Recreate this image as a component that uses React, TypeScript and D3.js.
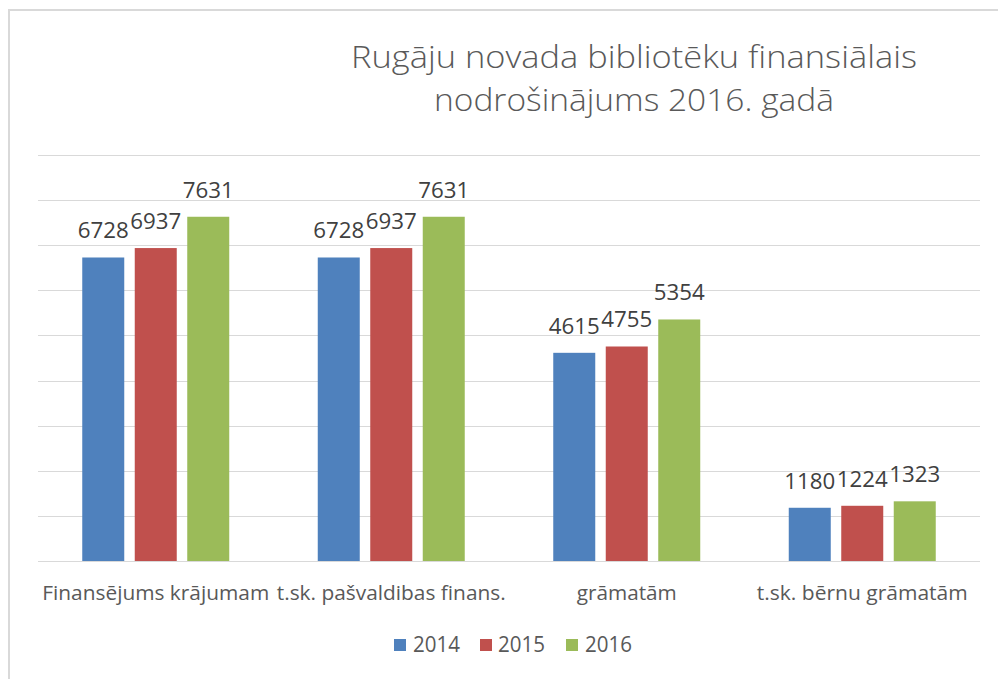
import React from "react";
import * as d3 from "d3";

const categories = [
  "Finansējums krājumam",
  "t.sk. pašvaldibas finans.",
  "grāmatām",
  "t.sk. bērnu grāmatām",
];
const seriesNames = ["2014", "2015", "2016"];
const values2014 = [6728, 6728, 4615, 1180];
const values2015 = [6937, 6937, 4755, 1224];
const values2016 = [7631, 7631, 5354, 1323];
const colors = ["#4F81BD", "#C0504D", "#9BBB59"];
const yTicks = [0, 1000, 2000, 3000, 4000, 5000, 6000, 7000, 8000, 9000];
const titleLines = ["Rugāju novada bibliotēku  finansiālais", "nodrošinājums 2016. gadā"];

const W = 998;
const H = 679;
const FONT = "'Open Sans', 'Liberation Sans', sans-serif";
const titleWidths = [566, 400];
const catWidths = [227, 229, 100, 211];

export default function App() {
  const seriesValues = [values2014, values2015, values2016];
  const plotLeft = 38;
  const plotRight = 980;
  const plotTop = 155;
  const plotBottom = 561;

  const x0 = d3.scaleBand<string>().domain(categories).range([plotLeft, plotRight]).paddingInner(0).paddingOuter(0);
  const x1 = d3
    .scaleBand<string>()
    .domain(seriesNames)
    .range([0, x0.bandwidth()])
    .paddingInner(0.2)
    .paddingOuter(0.843);
  const y = d3.scaleLinear().domain([0, 9000]).range([plotBottom, plotTop]);

  const legendItems = [
    { name: "2014", sx: 394, tx: 413 },
    { name: "2015", sx: 480, tx: 498 },
    { name: "2016", sx: 566, tx: 585 },
  ];

  return (
    <svg width={W} height={H} style={{ position: "absolute", left: 0, top: 0, display: "block" }}>
      <rect x={0} y={0} width={W} height={H} fill="#ffffff" />
      {/* chart border */}
      <line x1={8} y1={10} x2={W} y2={10} stroke="#d9d9d9" strokeWidth={2} />
      <line x1={9} y1={9} x2={9} y2={H} stroke="#d9d9d9" strokeWidth={2} />

      {/* title */}
      {titleLines.map((t, i) => (
        <text
          key={i}
          x={634}
          y={68 + i * 43}
          textAnchor="middle"
          fontFamily={FONT}
          fontSize={31}
          fontWeight={300}
          fill="#595959"
          textLength={titleWidths[i]}
          lengthAdjust="spacingAndGlyphs"
        >
          {t}
        </text>
      ))}

      {/* gridlines */}
      {yTicks.map((t) => (
        <line
          key={t}
          x1={plotLeft}
          x2={plotRight}
          y1={Math.round(y(t)) + 0.5}
          y2={Math.round(y(t)) + 0.5}
          stroke="#d9d9d9"
          strokeWidth={1}
        />
      ))}

      {/* bars */}
      {categories.map((c, ci) => (
        <g key={c} transform={`translate(${x0(c)},0)`}>
          {seriesNames.map((s, si) => {
            const v = seriesValues[si][ci];
            return (
              <rect
                key={s}
                x={x1(s)}
                y={y(v)}
                width={x1.bandwidth()}
                height={plotBottom - y(v)}
                fill={colors[si]}
              />
            );
          })}
          {seriesNames.map((s, si) => {
            const v = seriesValues[si][ci];
            return (
              <text
                key={s + "l"}
                x={(x1(s) as number) + x1.bandwidth() / 2}
                y={y(v) - 19}
                textAnchor="middle"
                fontFamily={FONT}
                fontSize={21}
                fill="#404040"
                textLength={51}
                lengthAdjust="spacingAndGlyphs"
              >
                {v}
              </text>
            );
          })}
          <text
            x={x0.bandwidth() / 2}
            y={600}
            textAnchor="middle"
            fontFamily={FONT}
            fontSize={20}
            fill="#595959"
            textLength={catWidths[ci]}
            lengthAdjust="spacingAndGlyphs"
          >
            {c}
          </text>
        </g>
      ))}

      {/* legend */}
      {legendItems.map((it, i) => (
        <g key={it.name}>
          <rect x={it.sx} y={639} width={12} height={12} fill={colors[i]} />
          <text
            x={it.tx}
            y={652}
            fontFamily={FONT}
            fontSize={21}
            fill="#595959"
            textLength={47}
            lengthAdjust="spacingAndGlyphs"
          >
            {it.name}
          </text>
        </g>
      ))}
    </svg>
  );
}
